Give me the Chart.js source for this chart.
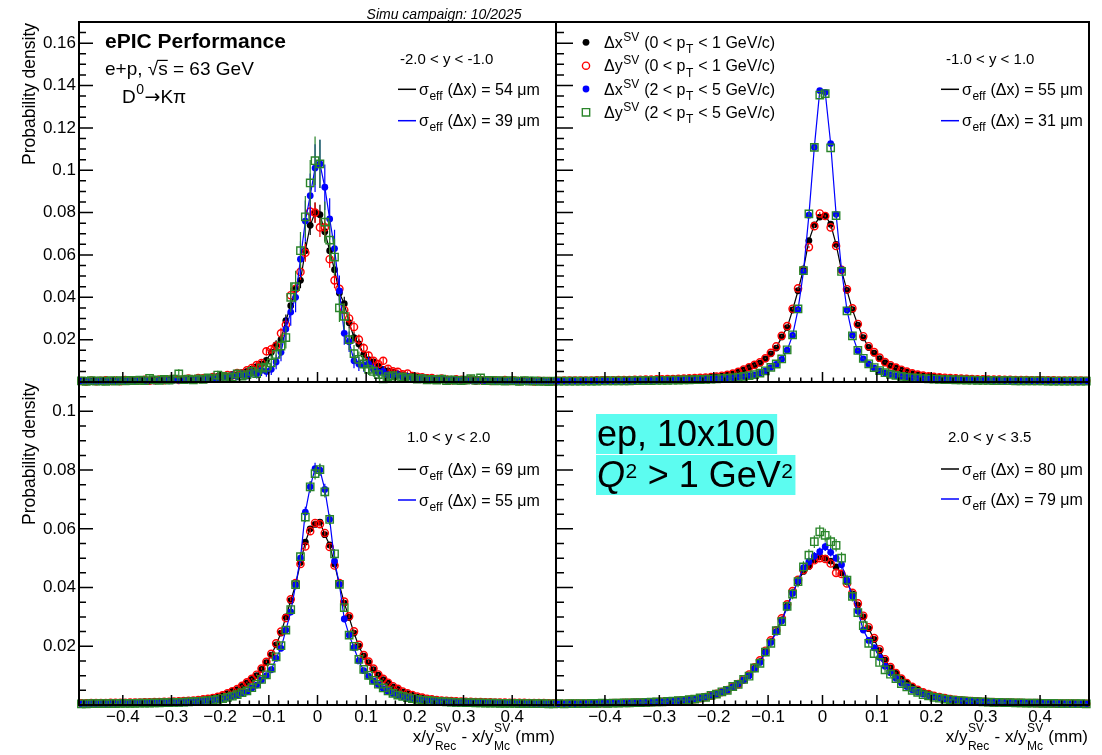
<!DOCTYPE html>
<html>
<head>
<meta charset="utf-8">
<title>SV resolution, D0 -> K pi</title>
<script src="https://cdn.jsdelivr.net/npm/chart.js@4.4.1/dist/chart.umd.min.js"></script>
<style>
  html, body { margin: 0; padding: 0; background: #fff; }
  .stage { position: relative; width: 1102px; height: 755px; overflow: hidden; }
  .stage canvas { position: absolute; left: 0; top: 0; }
</style>
</head>
<body>
<div class="stage">
  <canvas id="c-tl" width="1102" height="755"></canvas>
  <canvas id="c-tr" width="1102" height="755"></canvas>
  <canvas id="c-bl" width="1102" height="755"></canvas>
  <canvas id="c-br" width="1102" height="755"></canvas>
</div>
<script>
const FONT = '"Liberation Sans", Arial, Helvetica, sans-serif';
const SYMBOL_FONT = '"DejaVu Sans", sans-serif';

// bin centres in mm (0.01 mm bins), visible range +-0.49
const binCentres = [
  -0.485, -0.475, -0.465, -0.455, -0.445, -0.435, -0.425, -0.415, -0.405, -0.395,
  -0.385, -0.375, -0.365, -0.355, -0.345, -0.335, -0.325, -0.315, -0.305, -0.295,
  -0.285, -0.275, -0.265, -0.255, -0.245, -0.235, -0.225, -0.215, -0.205, -0.195,
  -0.185, -0.175, -0.165, -0.155, -0.145, -0.135, -0.125, -0.115, -0.105, -0.095,
  -0.085, -0.075, -0.065, -0.055, -0.045, -0.035, -0.025, -0.015, -0.005,
  0.005, 0.015, 0.025, 0.035, 0.045, 0.055, 0.065, 0.075, 0.085, 0.095,
  0.105, 0.115, 0.125, 0.135, 0.145, 0.155, 0.165, 0.175, 0.185, 0.195,
  0.205, 0.215, 0.225, 0.235, 0.245, 0.255, 0.265, 0.275, 0.285, 0.295,
  0.305, 0.315, 0.325, 0.335, 0.345, 0.355, 0.365, 0.375, 0.385, 0.395,
  0.405, 0.415, 0.425, 0.435, 0.445, 0.455, 0.465, 0.475, 0.485
];

// probability per bin, in units of 1e-3
// order in each panel: dx (0<pT<1), dy (0<pT<1), dx (2<pT<5), dy (2<pT<5)

// -2.0 < y < -1.0
const tlDxLow = [
  0.4,0.6,0.3,0.5,0.7, 0.4,0.6,0.5,0.8,0.6, 0.7,0.5,0.9,0.7,0.6, 1.0,0.8,0.7,1.1,0.9,
  1.2,1.0,1.3,1.1,1.5, 1.4,1.8,2.0,2.6,2.4, 2.9,3.6,3.5,4.4,5.0, 6.1,7.3,8.5,10.2,14.0,
  17.5,20.0,29.0,36.0,44.0, 48.0,62.0,74.0,80.0,
  79,71,62,53,42, 37,28,21,18,13, 10.5,9.5,7.5,6.0,5.2, 4.6,3.8,3.4,2.6,2.9,
  2.2,1.8,2.0,1.5,1.3, 1.6,1.1,1.3,0.9,1.2, 1.0,0.8,1.1,0.7,0.9, 0.6,0.8,0.7,0.5,0.8,
  0.6,0.4,0.7,0.5,0.6, 0.3,0.5,0.4,0.6
];
const tlDyLow = [
  0.5,0.3,0.7,0.4,0.6, 0.8,0.5,0.7,0.4,0.9, 0.6,0.8,0.7,1.0,0.6, 0.9,1.2,0.8,1.1,1.4,
  1.0,1.3,1.6,1.2,1.9, 1.7,1.5,2.3,2.0,2.8, 3.3,3.1,4.2,4.0,5.5, 6.6,8.0,9.0,14.5,15.5,
  17.0,23.0,27.0,41.0,44.0, 52.0,61.0,80.5,80.0,
  73,73,58,48,44, 34,30,26,20,16, 12.5,10.0,8.5,10.0,6.2, 5.0,4.8,3.6,4.0,2.8,
  2.5,2.2,1.7,1.9,1.4, 1.6,1.2,0.9,1.3,1.0, 0.8,1.1,0.6,0.9,0.7, 0.5,0.8,0.6,0.9,0.5,
  0.7,0.4,0.6,0.5,0.3, 0.6,0.4,0.5,0.3
];
const tlDxHigh = [
  0.3,0.5,0.2,0.4,0.3, 0.5,0.4,0.3,0.6,0.5, 0.4,0.7,0.5,0.6,0.8, 0.5,0.7,0.9,0.6,1.0,
  0.8,1.1,0.9,1.2,1.4, 1.1,1.6,1.3,2.0,2.4, 2.1,3.0,2.6,3.5,3.0, 4.5,3.8,5.5,5.0,6.0,
  9.5,14.0,25.0,33.0,40.0, 58.0,76.0,88.0,101.0,
  103,92,77,63,43, 23,19,10,8.5,8.0, 8.5,6.0,4.5,5.0,3.2, 2.8,3.4,2.2,2.6,1.8,
  1.5,1.9,1.2,1.4,1.0, 1.3,0.8,1.1,0.7,0.9, 0.6,0.8,0.5,0.7,0.6, 0.4,0.6,0.5,0.3,0.5,
  0.4,0.6,0.3,0.4,0.2, 0.5,0.3,0.4,0.3
];
const tlDyHigh = [
  0.5,0.3,0.6,0.4,0.5, 0.3,0.6,0.4,0.7,0.5, 0.8,0.6,0.9,0.7,1.7, 1.0,0.8,1.2,0.9,1.4,
  3.8,1.1,1.3,1.0,1.5, 1.2,1.9,1.6,3.3,2.6, 2.0,2.4,3.8,2.8,3.5, 5.0,4.0,6.5,7.0,9.0,
  13.0,17.0,21.0,40.0,45.0, 62.0,78.0,94.0,104.5,
  103,75.5,67,59,35, 31,20,13.4,10.7,8.5, 6.0,5.0,3.5,1.5,2.5, 3.0,2.0,2.4,1.6,1.9,
  1.3,1.6,1.0,1.2,0.9, 1.3,0.7,1.0,0.8,0.6, 0.9,1.6,0.8,1.9,0.6, 0.8,0.5,0.7,0.4,0.6,
  0.5,0.3,0.6,0.4,0.5, 0.3,0.4,0.2,0.4
];

// -1.0 < y < 1.0
const trDxLow = [
  0.62,0.64,0.66,0.68,0.7, 0.72,0.75,0.78,0.8,0.83, 0.86,0.9,0.92,0.95,1.0, 1.05,1.1,1.15,1.2,1.25,
  1.3,1.4,1.5,1.55,1.7, 1.8,1.9,2.1,2.3,2.5, 2.8,3.3,3.8,4.6,5.7, 6.9,7.8,8.9,10.9,13.3,
  16.0,21.3,25.7,34.0,43.1, 53.4,66.8,74.2,77.9,
  78.6,74.5,65.0,52.6,43.3, 34.2,26.9,20.9,16.3,13.6, 11.0,9.1,7.6,6.6,5.6, 4.7,3.9,3.4,2.9,2.6,
  2.35,2.15,1.95,1.8,1.65, 1.55,1.45,1.4,1.3,1.25, 1.2,1.12,1.08,1.02,0.98, 0.95,0.9,0.88,0.85,0.82,
  0.8,0.77,0.74,0.72,0.7, 0.67,0.65,0.63,0.61
];
const trDyLow = [
  0.6,0.66,0.63,0.7,0.68, 0.74,0.73,0.8,0.79,0.85, 0.84,0.9,0.94,0.97,1.02, 1.04,1.12,1.16,1.22,1.28,
  1.35,1.42,1.52,1.6,1.72, 1.85,1.98,2.15,2.35,2.6, 2.95,3.4,4.0,4.8,5.9, 7.0,8.1,9.3,11.2,13.8,
  16.8,21.8,26.4,34.6,44.2, 52.8,63.7,73.6,79.6,
  78.4,73.0,64.2,53.0,43.8, 34.8,27.4,21.6,16.9,14.1, 11.5,9.4,7.9,6.8,5.8, 4.9,4.1,3.5,3.0,2.7,
  2.4,2.2,2.0,1.85,1.7, 1.58,1.48,1.42,1.32,1.27, 1.2,1.15,1.1,1.03,1.0, 0.96,0.92,0.89,0.86,0.82,
  0.8,0.78,0.75,0.72,0.7, 0.68,0.66,0.64,0.62
];
const trDxHigh = [
  0.35,0.37,0.38,0.39,0.41, 0.42,0.44,0.45,0.47,0.49, 0.5,0.52,0.55,0.57,0.59, 0.62,0.65,0.68,0.72,0.76,
  0.8,0.84,0.9,0.95,1.0, 1.07,1.15,1.24,1.35,1.47, 1.6,1.75,1.95,2.2,2.55, 3.0,3.4,4.1,5.2,6.8,
  8.3,10.7,15.0,22.0,34.2, 52.1,78.8,110.9,137.6,
  136.8,112.6,79.2,53.0,34.0, 22.1,14.7,10.9,8.4,6.6, 5.3,4.3,3.5,3.0,2.6, 2.25,1.95,1.75,1.6,1.45,
  1.35,1.25,1.15,1.08,1.0, 0.95,0.9,0.85,0.8,0.76, 0.72,0.69,0.66,0.62,0.6, 0.57,0.55,0.53,0.51,0.49,
  0.47,0.45,0.44,0.42,0.41, 0.4,0.38,0.37,0.36
];
const trDyHigh = [
  0.37,0.36,0.4,0.38,0.42, 0.41,0.45,0.44,0.48,0.5, 0.49,0.54,0.56,0.58,0.6, 0.64,0.66,0.7,0.73,0.78,
  0.82,0.86,0.92,0.97,1.03, 1.1,1.18,1.27,1.38,1.5, 1.63,1.8,2.0,2.25,2.6, 3.05,3.5,4.2,5.3,6.9,
  8.5,10.9,15.2,22.3,34.5, 52.6,79.4,110.8,135.5,
  136.2,110.6,78.6,52.2,33.6, 21.8,14.9,11.2,8.6,6.8, 5.4,4.4,3.6,3.1,2.65, 2.3,2.0,1.8,1.62,1.48,
  1.37,1.27,1.17,1.1,1.02, 0.97,0.92,0.86,0.82,0.77, 0.73,0.7,0.67,0.63,0.61, 0.58,0.56,0.54,0.52,0.5,
  0.48,0.46,0.45,0.43,0.42, 0.4,0.39,0.38,0.37
];

// 1.0 < y < 2.0
const blDxLow = [
  0.58,0.6,0.62,0.64,0.66, 0.68,0.7,0.72,0.75,0.78, 0.8,0.82,0.85,0.88,0.9, 0.95,1.0,1.05,1.1,1.15,
  1.2,1.3,1.4,1.5,1.65, 1.8,2.0,2.3,2.7,3.2, 3.9,4.6,5.2,6.3,7.5, 8.7,10.0,12.1,14.4,17.0,
  20.5,24.5,30.0,35.5,41.0, 48.5,55.5,60.0,61.5,
  62.3,58.0,54.5,48.0,41.0, 34.7,29.8,24.5,20.0,16.6, 14.4,12.0,10.2,8.6,7.4, 6.2,5.3,4.5,3.9,3.3,
  2.8,2.4,2.1,1.85,1.65, 1.52,1.42,1.32,1.22,1.15, 1.1,1.05,1.0,0.96,0.92, 0.88,0.85,0.82,0.8,0.77,
  0.75,0.72,0.7,0.68,0.66, 0.64,0.62,0.6,0.58
];
const blDyLow = [
  0.6,0.58,0.63,0.65,0.64, 0.69,0.71,0.74,0.73,0.79, 0.82,0.84,0.86,0.9,0.93, 0.97,1.02,1.06,1.12,1.18,
  1.25,1.33,1.45,1.55,1.7, 1.9,2.1,2.4,2.8,3.3, 4.0,4.7,5.4,6.5,7.7, 8.9,10.3,12.4,14.7,17.4,
  21.0,25.0,29.6,36.0,41.5, 48.0,54.0,59.2,62.0,
  61.6,58.6,53.8,47.5,41.5, 35.2,30.2,25.1,20.5,17.0, 14.8,12.4,10.4,8.9,7.6, 6.4,5.5,4.6,4.0,3.4,
  2.9,2.5,2.15,1.9,1.7, 1.55,1.45,1.35,1.25,1.18, 1.12,1.06,1.02,0.97,0.94, 0.9,0.87,0.84,0.81,0.78,
  0.76,0.73,0.71,0.69,0.67, 0.65,0.63,0.61,0.59
];
const blDxHigh = [
  0.4,0.41,0.42,0.43,0.45, 0.46,0.48,0.5,0.52,0.54, 0.56,0.58,0.6,0.63,0.66, 0.69,0.72,0.76,0.8,0.85,
  0.9,0.95,1.0,1.1,1.2, 1.3,1.45,1.6,1.8,2.1, 2.5,2.9,3.3,4.0,4.5, 5.7,6.8,8.5,10.0,12.0,
  15.9,19.3,25.5,31.7,40.8, 50.0,65.7,74.3,80.5,
  80.0,73.4,63.2,49.0,41.1, 29.3,23.8,19.5,15.0,11.7, 9.8,8.2,6.9,5.6,4.6, 3.9,3.3,2.8,2.5,2.2,
  1.9,1.65,1.5,1.35,1.22, 1.12,1.03,0.96,0.9,0.85, 0.8,0.76,0.72,0.69,0.66, 0.63,0.6,0.58,0.56,0.54,
  0.52,0.5,0.48,0.47,0.45, 0.44,0.42,0.41,0.4
];
const blDyHigh = [
  0.42,0.4,0.44,0.43,0.47, 0.45,0.5,0.49,0.55,0.53, 0.58,0.57,0.62,0.64,0.68, 0.7,0.75,0.78,0.84,0.88,
  0.93,0.98,1.05,1.15,1.25, 1.35,1.5,1.65,1.9,2.2, 2.6,3.0,3.5,4.2,4.8, 5.9,7.1,8.7,10.3,12.6,
  16.4,20.2,25.5,32.5,41.0, 50.5,64.0,74.3,78.8,
  80.2,72.6,63.2,51.5,41.1, 33.2,23.8,20.0,15.5,12.1, 10.1,8.4,7.1,5.8,4.8, 4.0,3.4,2.9,2.55,2.2,
  1.95,1.7,1.55,1.4,1.26, 1.15,1.06,0.98,0.92,0.87, 0.82,0.77,0.74,0.7,0.67, 0.64,0.61,0.59,0.57,0.55,
  0.53,0.51,0.49,0.48,0.46, 0.45,0.43,0.42,0.41
];

// 2.0 < y < 3.5
const brDxLow = [
  0.42,0.44,0.46,0.48,0.5, 0.52,0.55,0.57,0.6,0.62, 0.65,0.68,0.72,0.75,0.8, 0.85,0.9,0.95,1.0,1.1,
  1.2,1.3,1.4,1.55,1.7, 1.9,2.3,2.6,3.1,3.7, 4.3,4.9,6.0,7.0,8.5, 10.2,12.5,14.8,18.2,21.6,
  25.0,29.0,33.7,38.3,42.0, 45.5,47.2,49.5,50.5,
  50.0,49.0,47.0,45.0,42.0, 37.8,34.0,30.0,26.0,22.3, 18.5,15.3,12.6,10.8,8.8, 7.4,6.1,5.1,4.2,3.6,
  3.1,2.6,2.3,2.0,1.75, 1.55,1.4,1.3,1.2,1.1, 1.02,0.96,0.9,0.85,0.8, 0.76,0.72,0.69,0.66,0.63,
  0.6,0.57,0.55,0.52,0.5, 0.48,0.46,0.44,0.42
];
const brDyLow = [
  0.44,0.41,0.47,0.46,0.52, 0.5,0.56,0.55,0.62,0.6, 0.67,0.66,0.74,0.73,0.82, 0.84,0.92,0.94,1.03,1.08,
  1.22,1.28,1.45,1.6,1.75, 1.95,2.35,2.7,3.2,3.8, 4.4,5.1,6.2,7.1,8.7, 10.4,12.8,15.2,18.5,22.0,
  25.4,29.5,34.3,38.8,42.6, 46.0,47.5,49.3,50.0,
  49.7,48.2,45.0,44.6,41.4, 38.2,34.6,30.4,26.5,22.8, 19.0,15.6,12.9,10.9,9.0, 7.5,6.2,5.2,4.3,3.7,
  3.15,2.7,2.35,2.05,1.8, 1.6,1.45,1.32,1.22,1.12, 1.04,0.97,0.92,0.86,0.82, 0.77,0.73,0.7,0.67,0.64,
  0.61,0.58,0.56,0.53,0.51, 0.49,0.47,0.45,0.43
];
const brDxHigh = [
  0.4,0.43,0.45,0.47,0.49, 0.52,0.54,0.56,0.59,0.62, 0.65,0.68,0.71,0.75,0.79, 0.84,0.9,0.96,1.02,1.1,
  1.2,1.32,1.45,1.6,1.8, 2.0,2.3,2.7,3.2,3.8, 4.4,5.1,6.1,7.2,8.5, 10.0,12.3,14.5,17.8,21.3,
  24.8,28.6,33.2,38.0,42.3, 46.8,48.8,50.7,52.2,
  53.9,52.0,50.0,47.8,42.5, 37.0,32.0,25.5,22.0,19.5, 16.2,13.2,11.0,9.1,7.5, 6.3,5.2,4.4,3.7,3.2,
  2.75,2.4,2.1,1.85,1.65, 1.5,1.38,1.27,1.17,1.08, 1.0,0.94,0.89,0.84,0.8, 0.75,0.72,0.68,0.65,0.62,
  0.59,0.56,0.54,0.51,0.49, 0.47,0.45,0.43,0.41
];
const brDyHigh = [
  0.43,0.4,0.46,0.44,0.5, 0.48,0.55,0.53,0.6,0.58, 0.66,0.64,0.72,0.74,0.8, 0.82,0.92,0.94,1.05,1.08,
  1.22,1.3,1.48,1.58,1.82, 2.0,2.4,2.6,3.3,3.7, 4.5,5.0,6.3,7.0,8.7, 9.8,12.6,14.2,18.0,21.0,
  25.3,28.4,33.6,37.8,42.0, 47.0,51.0,55.6,59.0,
  57.8,55.6,54.4,50.0,42.5, 37.0,31.5,27.0,21.0,17.5, 14.5,12.0,10.5,9.0,7.3, 6.2,5.0,4.3,3.5,3.1,
  2.6,2.3,2.0,1.78,1.6, 1.45,1.33,1.22,1.13,1.05, 0.97,0.92,0.86,0.82,0.77, 0.73,0.7,0.66,0.63,0.6,
  0.58,0.55,0.53,0.5,0.48, 0.46,0.44,0.43,0.41
];

// entries per histogram (sets the sqrt(N) error bars)
const tlEntries = [3500, 3500, 800, 800];
const trEntries = [200000, 200000, 150000, 150000];
const blEntries = [80000, 80000, 20000, 20000];
const brEntries = [60000, 60000, 25000, 12000];

const rangeLabels = ['-2.0 < y < -1.0', '-1.0 < y < 1.0', '1.0 < y < 2.0', '2.0 < y < 3.5'];
const sigmaLow = [54, 55, 69, 80];   // black line, um
const sigmaHigh = [39, 31, 55, 79];  // blue line, um

const xTickValues = [-0.4, -0.3, -0.2, -0.1, 0, 0.1, 0.2, 0.3, 0.4];
const xTickLabels = ['\u22120.4', '\u22120.3', '\u22120.2', '\u22120.1', '0', '0.1', '0.2', '0.3', '0.4'];
const topYTicks = [0.02, 0.04, 0.06, 0.08, 0.1, 0.12, 0.14, 0.16];
const topYLabels = ['0.02', '0.04', '0.06', '0.08', '0.1', '0.12', '0.14', '0.16'];
const botYTicks = [0.02, 0.04, 0.06, 0.08, 0.1];
const botYLabels = ['0.02', '0.04', '0.06', '0.08', '0.1'];

const legendRows = [
  [['\u0394x'], ['SV', '^'], [' (0 < p'], ['T', '_'], [' < 1 GeV/c)']],
  [['\u0394y'], ['SV', '^'], [' (0 < p'], ['T', '_'], [' < 1 GeV/c)']],
  [['\u0394x'], ['SV', '^'], [' (2 < p'], ['T', '_'], [' < 5 GeV/c)']],
  [['\u0394y'], ['SV', '^'], [' (2 < p'], ['T', '_'], [' < 5 GeV/c)']]
];

const GREEN = '#2a852a';
const markerStyles = [
  { pointStyle: 'circle', pointRadius: 3.4, pointBackgroundColor: '#000', pointBorderColor: '#000', pointBorderWidth: 0,
    showLine: true, borderColor: '#000', borderWidth: 1.2, order: 4, errColor: '#000' },
  { pointStyle: 'circle', pointRadius: 3.6, pointBackgroundColor: 'rgba(0,0,0,0)', pointBorderColor: '#ff0000', pointBorderWidth: 1.4,
    showLine: false, borderColor: '#ff0000', order: 3, errColor: '#ff0000' },
  { pointStyle: 'circle', pointRadius: 3.4, pointBackgroundColor: '#0000ff', pointBorderColor: '#0000ff', pointBorderWidth: 0,
    showLine: true, borderColor: '#0000ff', borderWidth: 1.2, order: 2, errColor: '#0000ff' },
  { pointStyle: 'rect', pointRadius: 5.2, pointBackgroundColor: 'rgba(0,0,0,0)', pointBorderColor: GREEN, pointBorderWidth: 1.4,
    showLine: false, borderColor: GREEN, order: 1, errColor: GREEN }
];

Chart.defaults.font.family = FONT;
Chart.defaults.color = '#000';

// simple TLatex-like text: [text, mode] with mode '^' sup, '^s' small sup, '_' sub, '^_' stacked,
// 'i' italic, 'b' bold, 'o' overline, 'y' symbol font
function drawRich(ctx, x, y, parts, size, align) {
  const smallFont = Math.round(size * 0.72) + 'px ' + FONT;
  const tinyFont = Math.round(size * 0.58) + 'px ' + FONT;
  const fontFor = m => m === 'y' ? size + 'px ' + SYMBOL_FONT :
    (m === 'i' ? 'italic ' : m === 'b' ? 'bold ' : '') + size + 'px ' + FONT;
  const widths = parts.map(([t, m, t2]) => {
    if (m === '^' || m === '_') { ctx.font = smallFont; return ctx.measureText(t).width + 1; }
    if (m === '^s') { ctx.font = tinyFont; return ctx.measureText(t).width + 1; }
    if (m === '^_') { ctx.font = smallFont; return Math.max(ctx.measureText(t).width, ctx.measureText(t2).width) + 1; }
    ctx.font = fontFor(m);
    return ctx.measureText(t).width;
  });
  const total = widths.reduce((s, w) => s + w, 0);
  let cx = align === 'right' ? x - total : align === 'center' ? x - total / 2 : x;
  ctx.textAlign = 'left';
  ctx.textBaseline = 'alphabetic';
  parts.forEach(([t, m, t2], i) => {
    if (m === '^') { ctx.font = smallFont; ctx.fillText(t, cx + 0.5, y - size * 0.45); }
    else if (m === '^s') { ctx.font = tinyFont; ctx.fillText(t, cx + 0.5, y - size * 0.25); }
    else if (m === '_') { ctx.font = smallFont; ctx.fillText(t, cx + 0.5, y + size * 0.32); }
    else if (m === '^_') {
      ctx.font = smallFont;
      ctx.fillText(t, cx + 0.5, y - size * 0.6);
      ctx.fillText(t2, cx + 0.5, y + size * 0.45);
    } else {
      ctx.font = fontFor(m);
      ctx.fillText(t, cx, y);
      if (m === 'o') ctx.fillRect(cx - 1, y - size * 0.8, widths[i] + 1, 1.2);
    }
    cx += widths[i];
  });
  return total;
}

function drawMarker(ctx, st, x, y) {
  ctx.save();
  ctx.lineWidth = st.pointBorderWidth || 0;
  ctx.strokeStyle = st.pointBorderColor;
  ctx.fillStyle = st.pointBackgroundColor;
  ctx.beginPath();
  if (st.pointStyle === 'rect') {
    const h = st.pointRadius * Math.SQRT1_2;
    ctx.rect(x - h, y - h, 2 * h, 2 * h);
  } else {
    ctx.arc(x, y, st.pointRadius, 0, Math.PI * 2);
  }
  ctx.fill();
  if (st.pointBorderWidth) ctx.stroke();
  ctx.restore();
}

const errorBars = {
  id: 'errorBars',
  beforeDatasetDraw(chart, args) {
    const ds = chart.data.datasets[args.index];
    if (!ds.entries) return;
    const ctx = chart.ctx, y = chart.scales.y;
    ctx.save();
    ctx.strokeStyle = ds.errColor;
    ctx.lineWidth = 1.2;
    ctx.beginPath();
    args.meta.data.forEach((pt, i) => {
      const v = ds.data[i].y;
      const e = Math.sqrt(v / ds.entries);
      ctx.moveTo(pt.x, y.getPixelForValue(v - e));
      ctx.lineTo(pt.x, y.getPixelForValue(v + e));
    });
    ctx.stroke();
    ctx.restore();
  }
};

const rootFrame = {
  id: 'rootFrame',
  afterDraw(chart) {
    const { ctx, chartArea: a, scales: { x, y } } = chart;
    const t = chart.options.plugins.rootFrame;
    ctx.save();
    ctx.strokeStyle = '#000';
    ctx.lineWidth = 1.5;
    ctx.beginPath();
    for (let k = -48; k <= 48; k += 2) {
      const px = x.getPixelForValue(k / 100);
      const len = k % 10 === 0 ? 10 : 4.5;
      ctx.moveTo(px, a.bottom);
      ctx.lineTo(px, a.bottom - len);
    }
    for (let k = 5; k < t.yMax * 1000; k += 5) {
      const py = y.getPixelForValue(k / 1000);
      const len = k % 20 === 0 ? t.yMajor : t.yMinor;
      ctx.moveTo(a.left, py);
      ctx.lineTo(a.left + len, py);
    }
    ctx.stroke();
    ctx.lineWidth = 2;
    ctx.strokeRect(a.left, a.top, a.right - a.left, a.bottom - a.top);
    ctx.restore();
  }
};

function drawYTitle(ctx, a) {
  ctx.save();
  ctx.translate(34.5, a.top + 1);
  ctx.rotate(-Math.PI / 2);
  ctx.font = '17.5px ' + FONT;
  ctx.textAlign = 'right';
  ctx.textBaseline = 'alphabetic';
  ctx.fillStyle = '#000';
  ctx.fillText('Probability density', 0, 0);
  ctx.restore();
}

function drawXTitle(ctx, a) {
  ctx.fillStyle = '#000';
  drawRich(ctx, a.right - 1, 742,
    [['x/y'], ['SV', '^_', 'Rec'], [' - x/y'], ['SV', '^_', 'Mc'], [' (mm)']], 17, 'right');
}

function panelText(p) {
  return {
    id: 'panelText',
    afterDraw(chart) {
      const ctx = chart.ctx, a = chart.chartArea;
      ctx.save();
      ctx.fillStyle = '#000';
      ctx.font = '15px ' + FONT;
      ctx.textAlign = 'left';
      ctx.textBaseline = 'alphabetic';
      ctx.fillText(rangeLabels[p.n], p.labelX, p.rows[0] + 5.3);
      [[sigmaLow[p.n], '#000'], [sigmaHigh[p.n], '#0000ff']].forEach(([sig, col], r) => {
        const yc = p.rows[r + 1];
        ctx.strokeStyle = col;
        ctx.lineWidth = 1.5;
        ctx.beginPath();
        ctx.moveTo(p.lineX, yc);
        ctx.lineTo(p.lineX + 18, yc);
        ctx.stroke();
        ctx.fillStyle = '#000';
        drawRich(ctx, p.lineX + 21, yc + 5.5, [['\u03c3'], ['eff', '_'], [' (\u0394x) = ' + sig + ' \u03bcm']], 16);
      });
      if (p.yTitle) drawYTitle(ctx, a);
      if (p.xTitle) drawXTitle(ctx, a);
      if (p.extra) p.extra(ctx, a);
      ctx.restore();
    }
  };
}

function topLeftExtras(ctx) {
  ctx.fillStyle = '#000';
  ctx.font = 'italic 14px ' + FONT;
  ctx.textAlign = 'center';
  ctx.fillText('Simu campaign: 10/2025', 444, 18.5);
  ctx.textAlign = 'left';
  ctx.font = 'bold 21px ' + FONT;
  ctx.fillText('ePIC Performance', 105, 48);
  drawRich(ctx, 105, 75, [['e+p, \u221a'], ['s', 'o'], [' = 63 GeV']], 19);
  drawRich(ctx, 122, 103, [['D'], ['0', '^'], ['\u2192', 'y'], ['K\u03c0']], 19);
}

function topRightExtras(ctx) {
  const rows = [42.3, 65.7, 89, 112.3];
  legendRows.forEach((parts, k) => {
    drawMarker(ctx, markerStyles[k], 586, rows[k]);
    ctx.fillStyle = '#000';
    drawRich(ctx, 604, rows[k] + 5.7, parts, 16);
  });
}

function bottomRightExtras(ctx) {
  const size = 36;
  const lines = [
    [[['ep, 10x100']], 446],
    [[['Q', 'i'], ['2', '^s'], [' > 1 GeV'], ['2', '^s']], 487]
  ];
  lines.forEach(([parts, base]) => {
    ctx.fillStyle = '#000';
    const w = drawRich(ctx, -2000, base, parts, size);   // measure only (off canvas)
    ctx.fillStyle = 'rgb(92, 252, 240)';
    ctx.fillRect(596, base - 32, w + 3, 40);
    ctx.fillStyle = '#000';
    drawRich(ctx, 597, base, parts, size);
  });
}

// yw / xh: space given to the y tick labels / x tick labels (labels are clipped to it)
const panels = [
  { id: 'c-tl', n: 0, pad: { left: 0, top: 22, right: 546, bottom: 373 }, yw: 79, xh: 0, yMax: 0.17,
    yTicks: topYTicks, yLabels: topYLabels, showX: false, showY: true, yMajor: 14, yMinor: 7,
    series: [tlDxLow, tlDyLow, tlDxHigh, tlDyHigh], entries: tlEntries,
    labelX: 400, lineX: 398, rows: [58.3, 89.3, 120.7], yTitle: true, extra: topLeftExtras },
  { id: 'c-tr', n: 1, pad: { left: 556, top: 22, right: 13, bottom: 373 }, yw: 0, xh: 0, yMax: 0.17,
    yTicks: topYTicks, yLabels: topYLabels, showX: false, showY: false, yMajor: 17, yMinor: 8,
    series: [trDxLow, trDyLow, trDxHigh, trDyHigh], entries: trEntries,
    labelX: 946, lineX: 941, rows: [58.3, 89.3, 120.7], extra: topRightExtras },
  { id: 'c-bl', n: 2, pad: { left: 0, top: 382, right: 546, bottom: 0 }, yw: 79, xh: 50, yMax: 0.11,
    yTicks: botYTicks, yLabels: botYLabels, showX: true, showY: true, yMajor: 14, yMinor: 7,
    series: [blDxLow, blDyLow, blDxHigh, blDyHigh], entries: blEntries,
    labelX: 407, lineX: 398, rows: [436.7, 469.3, 500], yTitle: true, xTitle: true },
  { id: 'c-br', n: 3, pad: { left: 556, top: 382, right: 13, bottom: 0 }, yw: 0, xh: 50, yMax: 0.11,
    yTicks: botYTicks, yLabels: botYLabels, showX: true, showY: false, yMajor: 17, yMinor: 8,
    series: [brDxLow, brDyLow, brDxHigh, brDyHigh], entries: brEntries,
    labelX: 948, lineX: 941, rows: [437, 469, 499], xTitle: true, extra: bottomRightExtras }
];

panels.forEach(p => {
  p.series.forEach(s => { if (s.length !== binCentres.length) console.warn(p.id, 'series length', s.length); });

  const datasets = p.series.map((vals, k) => Object.assign({
    data: binCentres.map((x, i) => ({ x: x, y: vals[i] / 1000 })),
    entries: p.entries[k],
    clip: false
  }, markerStyles[k]));

  new Chart(document.getElementById(p.id), {
    type: 'scatter',
    data: { datasets },
    options: {
      responsive: false,
      animation: false,
      devicePixelRatio: 1,
      events: [],
      layout: { padding: p.pad },
      plugins: {
        legend: { display: false },
        tooltip: { enabled: false },
        rootFrame: { yMax: p.yMax, yMajor: p.yMajor, yMinor: p.yMinor }
      },
      scales: {
        x: {
          type: 'linear', min: -0.49, max: 0.49,
          afterBuildTicks: s => { s.ticks = xTickValues.map(v => ({ value: v })); },
          afterFit: s => { s.height = p.xh; },
          grid: { display: false, drawTicks: false },
          border: { display: false },
          ticks: { display: p.showX, autoSkip: false, maxRotation: 0, minRotation: 0, padding: 2,
                   font: { size: 17 }, color: '#000', callback: (v, i) => xTickLabels[i] }
        },
        y: {
          type: 'linear', min: 0, max: p.yMax,
          afterBuildTicks: s => { s.ticks = p.yTicks.map(v => ({ value: v })); },
          afterFit: s => { s.width = p.yw; },
          grid: { display: false, drawTicks: false },
          border: { display: false },
          ticks: { display: p.showY, autoSkip: false, padding: 3,
                   font: { size: 17 }, color: '#000', callback: (v, i) => p.yLabels[i] }
        }
      }
    },
    plugins: [errorBars, rootFrame, panelText(p)]
  });
});
</script>
</body>
</html>
